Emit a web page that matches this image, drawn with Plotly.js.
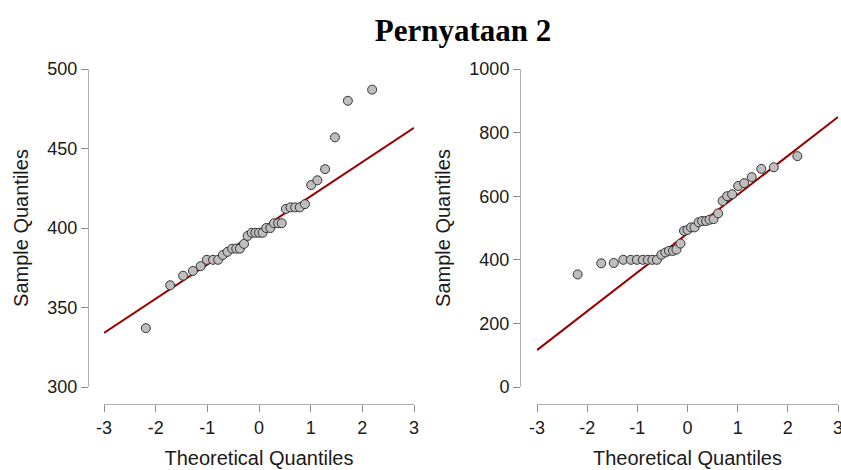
<!DOCTYPE html>
<html>
<head>
<meta charset="utf-8">
<script src="https://cdn.plot.ly/plotly-3.0.1.min.js"></script>
<style>
  html, body { margin: 0; padding: 0; background: #ffffff; }
  #chart { width: 841px; height: 470px; }
</style>
</head>
<body>
<div id="chart"></div>
<script>
// Theoretical normal quantiles (n = 35), shared by both panels
const theoretical = [-2.19, -1.72, -1.47, -1.28, -1.13, -1.01, -0.89, -0.79, -0.70, -0.61,
  -0.52, -0.44, -0.37, -0.29, -0.22, -0.14, -0.07, 0.00, 0.07, 0.14,
  0.22, 0.29, 0.37, 0.44, 0.52, 0.61, 0.70, 0.79, 0.89, 1.01,
  1.13, 1.28, 1.47, 1.72, 2.19];

// Left panel sample quantiles
const sampleLeft = [337, 364, 370, 373, 376, 380, 380, 380, 383, 385,
  387, 387, 387, 390, 395, 397, 397, 397, 397, 400,
  400, 403, 403, 403, 412, 413, 413, 413, 415, 427,
  430, 437, 457, 480, 487];

// Right panel sample quantiles
const sampleRight = [354, 389, 390, 400, 400, 400, 400, 400, 400, 400,
  416, 423, 428, 428, 432, 451, 491, 494, 502, 502,
  518, 522, 522, 526, 528, 546, 585, 600, 606, 632,
  641, 660, 686, 691, 726];

// Reference (qq) line end points
const lineX = [-3, 3];
const lineLeftY = [334, 463];
const lineRightY = [116, 849];

// Axis ticks
const xTicks = [-3, -2, -1, 0, 1, 2, 3];
const yTicksLeft = [300, 350, 400, 450, 500];
const yTicksRight = [0, 200, 400, 600, 800, 1000];

const titleText = 'Pernyataan 2';
const xTitle = 'Theoretical Quantiles';
const yTitle = 'Sample Quantiles';

const W = 841, H = 470;
const px = v => v / W;
const py = v => 1 - v / H;

const pointStyle = {
  size: 9,
  color: '#bebebe',
  line: { color: '#333333', width: 1 }
};
const lineStyle = { color: '#990000', width: 2 };

const traces = [
  { x: lineX, y: lineLeftY, xaxis: 'x', yaxis: 'y', mode: 'lines', line: lineStyle, hoverinfo: 'skip' },
  { x: theoretical, y: sampleLeft, xaxis: 'x', yaxis: 'y', mode: 'markers', marker: pointStyle },
  { x: lineX, y: lineRightY, xaxis: 'x2', yaxis: 'y2', mode: 'lines', line: lineStyle, hoverinfo: 'skip' },
  { x: theoretical, y: sampleRight, xaxis: 'x2', yaxis: 'y2', mode: 'markers', marker: pointStyle }
];

const tickFont = { family: 'Liberation Sans, Arial, sans-serif', size: 18, color: '#1a1a1a' };
const titleFont = { family: 'Liberation Sans, Arial, sans-serif', size: 20, color: '#1a1a1a' };

const commonAxis = {
  showgrid: false,
  zeroline: false,
  showline: true,
  linecolor: '#b0b0b0',
  linewidth: 1,
  ticks: 'outside',
  ticklen: 7,
  tickwidth: 1,
  tickcolor: '#8c8c8c',
  tickfont: tickFont,
  ticklabeloverflow: 'allow',
  fixedrange: true
};

function xAxis(domain) {
  return Object.assign({}, commonAxis, {
    domain: domain,
    range: [-3, 3],
    tickmode: 'array',
    tickvals: xTicks,
    ticktext: xTicks.map(String),
    anchor: 'free',
    position: py(404),
    title: { text: xTitle, font: titleFont, standoff: 14 }
  });
}
function yAxis(range, ticks, pos) {
  return Object.assign({}, commonAxis, {
    domain: [py(387), py(69)],
    range: range,
    tickmode: 'array',
    tickvals: ticks,
    ticktext: ticks.map(String),
    anchor: 'free',
    position: pos,
    title: { text: yTitle, font: titleFont, standoff: 12 }
  });
}

const layout = {
  width: W,
  height: H,
  margin: { l: 0, r: 0, t: 0, b: 0, pad: 0 },
  paper_bgcolor: '#ffffff',
  plot_bgcolor: '#ffffff',
  showlegend: false,
  title: {
    text: titleText,
    font: { family: 'Liberation Serif, Times New Roman, serif', size: 31, color: '#000000', weight: 'bold' },
    x: 463 / W,
    xanchor: 'center',
    xref: 'paper',
    y: py(30),
    yanchor: 'middle',
    yref: 'paper'
  },
  xaxis: xAxis([px(104), px(414)]),
  yaxis: yAxis([300, 500], yTicksLeft, px(88)),
  xaxis2: xAxis([px(537), px(838)]),
  yaxis2: yAxis([0, 1000], yTicksRight, px(520))
};

Plotly.newPlot('chart', traces, layout, { displayModeBar: false, staticPlot: true });
</script>
</body>
</html>
